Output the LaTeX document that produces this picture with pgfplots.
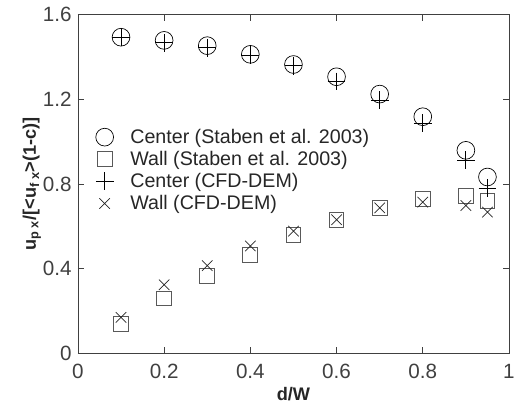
\documentclass[border=0pt]{standalone}
\usepackage{fontspec}
\setmainfont{Liberation Sans}
\usepackage{pgfplots}
\pgfplotsset{compat=1.18}

% d/W and normalised particle velocity
\begin{document}
\begin{tikzpicture}
\begin{axis}[
  scale only axis, width=437bp, height=343bp,
  xmin=0, xmax=1, ymin=0, ymax=1.6,
  xtick={0,0.2,0.4,0.6,0.8,1}, ytick={0,0.4,0.8,1.2,1.6},
  xticklabels={0,0.2,0.4,0.6,0.8,1}, yticklabels={0,0.4,0.8,1.2,1.6},
  major tick length=6bp,
  axis line style={black!75, line width=0.7pt},
  tick style={black!75, line width=0.7pt},
  tick label style={font=\fontsize{21}{24}\selectfont, text=black!75},
  xticklabel style={yshift=-8bp},
  yticklabel style={xshift=-3bp},
  label style={font=\bfseries\fontsize{18.5}{21}\selectfont, text=black!85},
  xlabel={d/W},
  ylabel={u\textsubscript{p x}/[<u\textsubscript{f x}>(1-c)]},
  xlabel style={yshift=-1bp},
  ylabel style={yshift=-5bp},
  legend style={draw=none, fill=none, at={(0.041,0.668)}, anchor=north west,
    font=\fontsize{20}{23}\selectfont, text=black!85, row sep=2.5bp,
    inner xsep=0pt, inner ysep=0pt,
    /tikz/every odd column/.append style={column sep=15bp}},
  legend cell align=left,
]
\addplot[only marks, mark=o, mark size=9bp, black, line width=0.7pt] coordinates {
 (0.1,1.494)(0.2,1.479)(0.3,1.454)(0.4,1.413)(0.5,1.365)(0.6,1.307)(0.7,1.225)(0.8,1.118)(0.9,0.959)(0.95,0.833)};
\addlegendentry{Center (Staben et al. 2003)}
\addplot[only marks, mark=square, mark size=7.5bp, black!65, line width=1pt] coordinates {
 (0.1,0.138)(0.2,0.258)(0.3,0.364)(0.4,0.465)(0.5,0.558)(0.6,0.631)(0.7,0.687)(0.8,0.729)(0.9,0.745)(0.95,0.718)};
\addlegendentry{Wall (Staben et al. 2003)}
\addplot[only marks, mark=+, mark size=9bp, black, line width=0.8pt] coordinates {
 (0.1,1.494)(0.2,1.468)(0.3,1.444)(0.4,1.409)(0.5,1.359)(0.6,1.284)(0.7,1.196)(0.8,1.087)(0.9,0.913)(0.95,0.780)};
\addlegendentry{Center (CFD-DEM)}
\addplot[only marks, mark=x, mark size=7.5bp, black!85, line width=0.7pt] coordinates {
 (0.1,0.169)(0.2,0.323)(0.3,0.414)(0.4,0.507)(0.5,0.577)(0.6,0.631)(0.7,0.687)(0.8,0.714)(0.9,0.698)(0.95,0.667)};
\addlegendentry{Wall (CFD-DEM)}
\end{axis}
\path (current axis.south west) ++(-79bp,-50bp) coordinate (bbA);
\path (current axis.north east) ++(2bp,15bp) coordinate (bbB);
\path (bbA) rectangle (bbB);
\end{tikzpicture}
\end{document}
